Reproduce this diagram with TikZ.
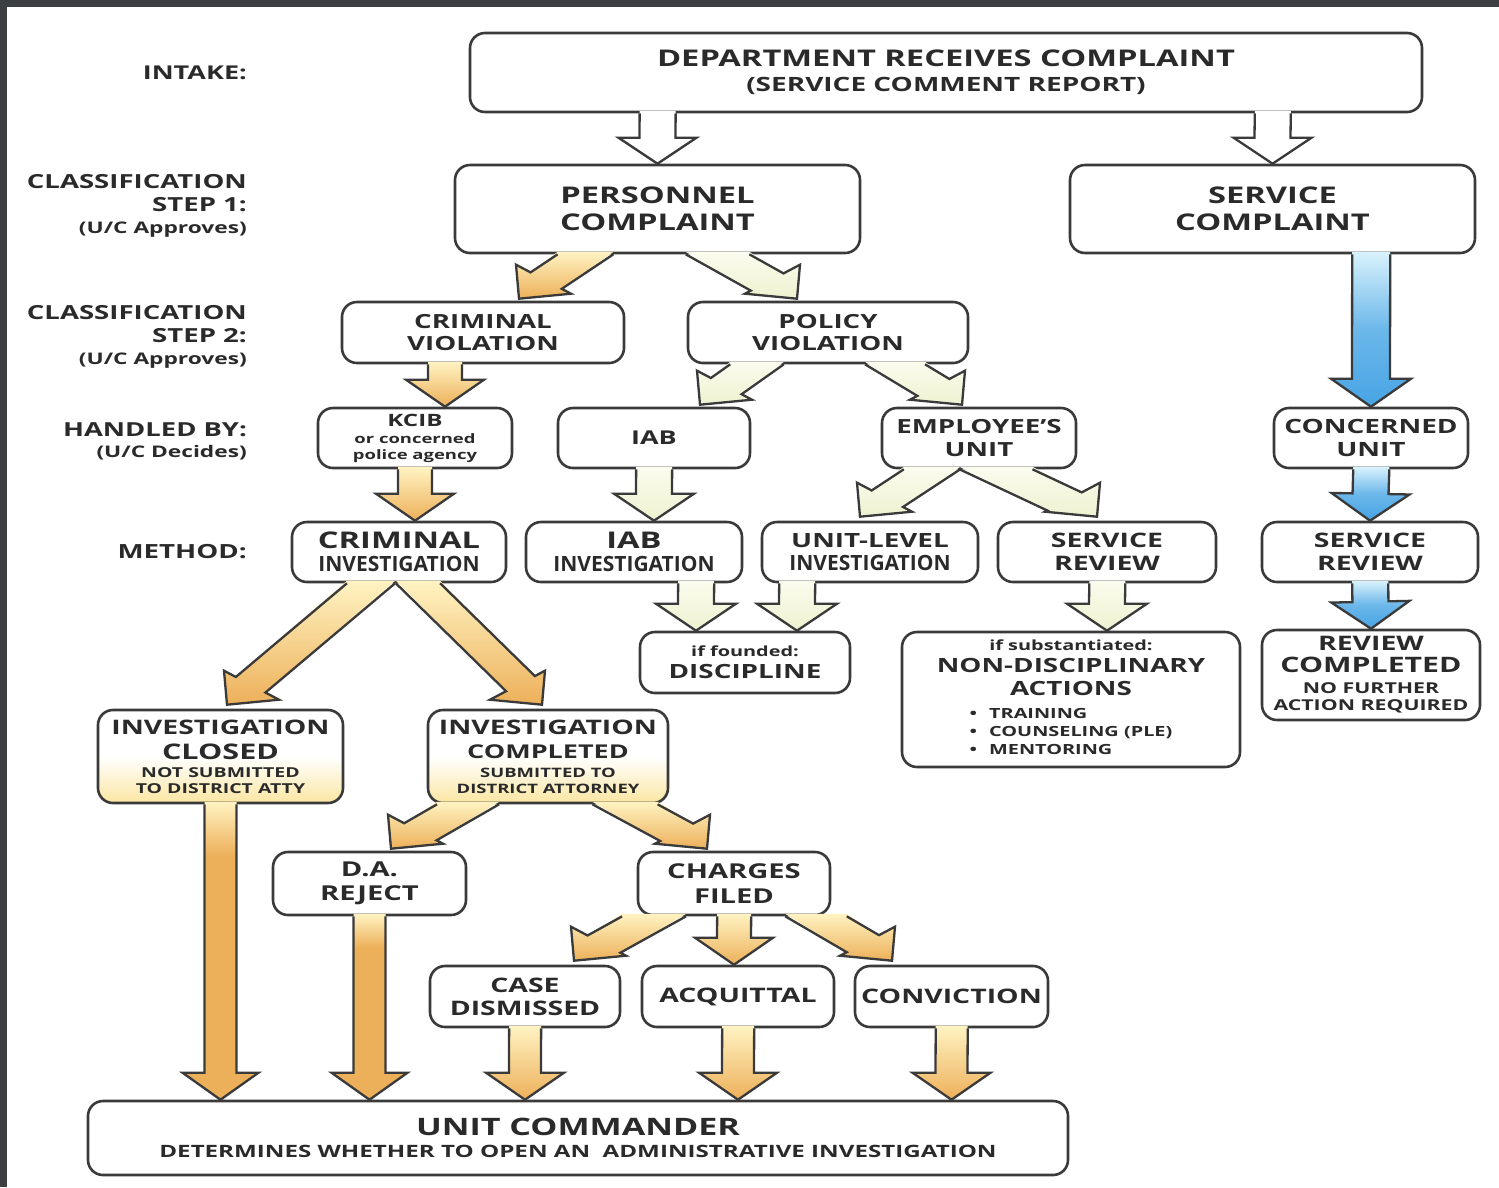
\documentclass[tikz,border=0pt]{standalone}
\usepackage{fontspec}
\setmainfont{Open Sans}[FakeStretch=1.42]
\newfontfamily\condfont{Open Sans}[FakeStretch=1.0]
\usetikzlibrary{calc}

\definecolor{linegray}{HTML}{3A3A3A}
\definecolor{inkgray}{HTML}{2A2A2A}
\definecolor{framegray}{HTML}{3C3F42}
\definecolor{olight}{HTML}{FFF3C2}
\definecolor{oorange}{HTML}{EDB05A}
\definecolor{ptop}{HTML}{FBFCEE}
\definecolor{pbottom}{HTML}{EEF2D0}
\definecolor{blight}{HTML}{D9F2FC}
\definecolor{bblue}{HTML}{47A4E4}
\definecolor{yfade}{HTML}{FBE6A2}

\pgfdeclareverticalshading{orangedrop}{100bp}{color(0bp)=(oorange); color(25bp)=(oorange); color(66bp)=(oorange); color(75bp)=(olight); color(100bp)=(olight)}

\newcommand\sz[2]{\fontsize{#1}{#2}\selectfont}

% straight block arrow: #1 fill style, #2 from, #3 to, #4 half shaft, #5 half head, #6 head length
\newcommand\fatarrow[6]{%
  \coordinate (fa-a) at (#2);
  \coordinate (fa-b) at (#3);
  \coordinate (fa-h) at ($(fa-b)!#6!(fa-a)$);
  \coordinate (fa-s1) at ($(fa-a)!#4!90:(fa-b)$);
  \coordinate (fa-s2) at ($(fa-a)!#4!-90:(fa-b)$);
  \coordinate (fa-t1) at ($(fa-h)!#4!90:(fa-b)$);
  \coordinate (fa-t2) at ($(fa-h)!#4!-90:(fa-b)$);
  \coordinate (fa-w1) at ($(fa-h)!#5!90:(fa-b)$);
  \coordinate (fa-w2) at ($(fa-h)!#5!-90:(fa-b)$);
  \coordinate (fa-r) at ($(fa-a)+(10,0)$);
  \coordinate (fa-e1) at (intersection of fa-s1--fa-t1 and fa-a--fa-r);
  \coordinate (fa-e2) at (intersection of fa-s2--fa-t2 and fa-a--fa-r);
  \path[#1] ($(fa-e1)+(0,-2.5)$) -- (fa-t1) -- (fa-w1) -- (fa-b) -- (fa-w2) -- (fa-t2) -- ($(fa-e2)+(0,-2.5)$) -- cycle;
  \draw[arrowline] (fa-e1) -- (fa-t1) -- (fa-w1) -- (fa-b) -- (fa-w2) -- (fa-t2) -- (fa-e2);
}

% slanted block arrow with a square corner head: #5, #6 wing offsets from the tip
\newcommand\bentarrow[6]{%
  \coordinate (fa-a) at (#2);
  \coordinate (fa-b) at (#3);
  \coordinate (fa-s1) at ($(fa-a)!#4!90:(fa-b)$);
  \coordinate (fa-s2) at ($(fa-a)!#4!-90:(fa-b)$);
  \coordinate (fa-u1) at ($(fa-s1)+(fa-b)-(fa-a)$);
  \coordinate (fa-u2) at ($(fa-s2)+(fa-b)-(fa-a)$);
  \coordinate (fa-w1) at ($(fa-b)+(#5)$);
  \coordinate (fa-w2) at ($(fa-b)+(#6)$);
  \coordinate (fa-t1) at (intersection of fa-s1--fa-u1 and fa-w1--fa-w2);
  \coordinate (fa-t2) at (intersection of fa-s2--fa-u2 and fa-w1--fa-w2);
  \coordinate (fa-r) at ($(fa-a)+(10,0)$);
  \coordinate (fa-e1) at (intersection of fa-s1--fa-u1 and fa-a--fa-r);
  \coordinate (fa-e2) at (intersection of fa-s2--fa-u2 and fa-a--fa-r);
  \path[#1] ($(fa-e1)+(0,-2.5)$) -- (fa-t1) -- (fa-w1) -- (fa-b) -- (fa-w2) -- (fa-t2) -- ($(fa-e2)+(0,-2.5)$) -- cycle;
  \draw[arrowline] (fa-e1) -- (fa-t1) -- (fa-w1) -- (fa-b) -- (fa-w2) -- (fa-t2) -- (fa-e2);
}
\newcommand\leftfat[3]{\bentarrow{#1}{#2}{#3}{15.5pt}{52,-5}{-3,-34}}
\newcommand\rightfat[3]{\bentarrow{#1}{#2}{#3}{15.5pt}{3,-34}{-52,-5}}

\tikzset{
  sz/.style 2 args={font=\bfseries\fontsize{#1}{#2}\selectfont},
  box/.style={draw=linegray, line width=2.6pt, rounded corners=15pt, fill=white, align=center, inner sep=0pt, text=inkgray},
  ybox/.style={box, top color=white, bottom color=yfade, middle color=white},
  side/.style={anchor=east, align=right, text=inkgray, inner sep=0pt},
  arrowline/.style={draw=linegray, line width=2.3pt, line join=miter},
  whitefill/.style={fill=white},
  orangefill/.style={top color=olight, bottom color=oorange},
  longorange/.style={shade, shading=orangedrop},
  palefill/.style={top color=ptop, bottom color=pbottom},
  bluefill/.style={top color=blight, bottom color=bblue, middle color=bblue!75!blight},
}

\begin{document}
\begin{tikzpicture}[x=1pt, y=-1pt, font=\bfseries]
\useasboundingbox (0,0) rectangle (1499,1187);
\fill[white] (0,0) rectangle (1499,1187);
\fill[framegray] (0,0) rectangle (1499,7);
\fill[framegray] (0,0) rectangle (7,1187);

% row labels
\node[side, sz={19}{22}] (lintake) at (247,73) {INTAKE:};
\node[side, sz={19.4}{23}] (lstep1) at (247,206) {CLASSIFICATION\\STEP 1:\\[-1pt]\sz{16}{16}(U/C Approves)};
\node[side, sz={19.4}{23}] (lstep2) at (247,337) {CLASSIFICATION\\STEP 2:\\[-1pt]\sz{16}{16}(U/C Approves)};
\node[side, sz={19.3}{21}] (lhandled) at (247,441.5) {HANDLED BY:\\\sz{16}{16}(U/C Decides)};
\node[side, sz={19.5}{22}] (lmethod) at (247,552) {METHOD:};

% boxes
\node[box, sz={23}{25}, minimum width=952pt, minimum height=79pt] (dept) at (946,72.5)
  {DEPARTMENT RECEIVES COMPLAINT\\\sz{19.7}{20}(SERVICE COMMENT REPORT)};
\node[box, sz={23}{27}, minimum width=405pt, minimum height=88pt] (pers) at (657.5,209) {PERSONNEL\\COMPLAINT};
\node[box, sz={23}{27}, minimum width=405pt, minimum height=88pt] (serv) at (1272.5,209) {SERVICE\\COMPLAINT};
\node[box, sz={19.5}{22}, minimum width=282pt, minimum height=61pt] (crimv) at (483,332.5) {CRIMINAL\\VIOLATION};
\node[box, sz={19.5}{22}, minimum width=280pt, minimum height=61pt] (polv) at (828,332.5) {POLICY\\VIOLATION};
\node[box, sz={17}{17}, minimum width=194pt, minimum height=60pt] (kcib) at (415,438)
  {KCIB\\\sz{13}{13}or concerned\\[-1pt]\sz{13}{13}police agency};
\node[box, sz={19}{22}, minimum width=192pt, minimum height=60pt] (iab) at (654,438) {IAB};
\node[box, sz={19.5}{23}, minimum width=194pt, minimum height=60pt] (emp) at (979,438) {EMPLOYEE’S\\UNIT};
\node[box, sz={19.7}{23}, minimum width=194pt, minimum height=60pt] (conc) at (1371,438) {CONCERNED\\UNIT};
\node[box, sz={23}{23}, minimum width=214pt, minimum height=60pt] (crimi) at (399,552)
  {CRIMINAL\\\condfont\sz{21}{23}INVESTIGATION};
\node[box, sz={23}{23}, minimum width=216pt, minimum height=60pt] (iabi) at (634,552)
  {IAB\\\condfont\sz{21}{23}INVESTIGATION};
\node[box, sz={19.6}{23}, minimum width=216pt, minimum height=60pt] (unit) at (870,552)
  {UNIT-LEVEL\\\condfont\sz{21}{23}INVESTIGATION};
\node[box, sz={20}{23}, minimum width=218pt, minimum height=60pt] (srev) at (1107,552) {SERVICE\\REVIEW};
\node[box, sz={20}{23}, minimum width=216pt, minimum height=60pt] (srevb) at (1370,552) {SERVICE\\REVIEW};
\node[box, sz={19.6}{22}, minimum width=210pt, minimum height=61pt] (disc) at (745,662.5)
  {\sz{14}{14}if founded:\\DISCIPLINE};
\node[box, sz={19.6}{23}, minimum width=338pt, minimum height=135pt] (nond) at (1071,699.5)
  {\sz{14}{14}if substantiated:\\[-1pt]NON-DISCIPLINARY\\ACTIONS\\
   \sz{14}{18}\begin{tabular}[t]{@{}l@{}}\textbullet\hspace{12pt}TRAINING\\\textbullet\hspace{12pt}COUNSELING (PLE)\\\textbullet\hspace{12pt}MENTORING\end{tabular}};
\node[box, sz={20}{21.5}, minimum width=218pt, minimum height=90pt] (revc) at (1371,675)
  {REVIEW\\\sz{21.3}{22}COMPLETED\\\sz{15}{15}NO FURTHER\\[-4.5pt]\sz{15}{15}ACTION REQUIRED};
\node[ybox, sz={20}{16}, minimum width=245pt, minimum height=93pt] (closed) at (220.5,756.5)
  {INVESTIGATION\\[9pt]\sz{21.5}{16}CLOSED\\[2pt]\sz{13.7}{14}NOT SUBMITTED\\\sz{13.7}{14}TO DISTRICT ATTY};
\node[ybox, sz={20}{16}, minimum width=240pt, minimum height=93pt] (compl) at (548,756.5)
  {INVESTIGATION\\[8pt]\sz{19}{16}COMPLETED\\[3pt]\sz{13}{14}SUBMITTED TO\\\sz{13}{14}DISTRICT ATTORNEY};
\node[box, sz={20.5}{24}, minimum width=193pt, minimum height=63pt] (dar) at (369.5,883.5) {D.A.\\REJECT};
\node[box, sz={20.5}{25}, minimum width=192pt, minimum height=63pt] (chg) at (734,883.5) {CHARGES\\FILED};
\node[box, sz={20}{23}, minimum width=190pt, minimum height=61pt] (cdis) at (525,996.5) {CASE\\DISMISSED};
\node[box, sz={20}{23}, minimum width=192pt, minimum height=61pt] (acq) at (738,996.5) {ACQUITTAL};
\node[box, sz={20}{23}, minimum width=193pt, minimum height=61pt] (conv) at (951.5,996.5) {CONVICTION};
\node[box, sz={24}{22}, minimum width=980pt, minimum height=74pt] (uc) at (578,1138)
  {UNIT COMMANDER\\\sz{17}{17}DETERMINES WHETHER TO OPEN AN\ \ ADMINISTRATIVE INVESTIGATION};

% intake and classification
\fatarrow{whitefill}{pers.north |- dept.south}{pers.north}{18pt}{39pt}{26pt}
\fatarrow{whitefill}{serv.north |- dept.south}{serv.north}{18pt}{39pt}{26pt}
\leftfat{orangefill}{$(pers.south)+(-72,0)$}{$(crimv.north)+(36,-2)$}
\rightfat{palefill}{$(pers.south)+(60,0)$}{$(polv.north)+(-31,-2)$}
\leftfat{palefill}{$(polv.south)+(-71,0)$}{$(iab.north)+(46,-2)$}
\rightfat{palefill}{$(polv.south)+(67,0)$}{$(emp.north)+(-17,-2)$}

% criminal branch
\fatarrow{orangefill}{$(crimv.south)+(-38,0)$}{$(kcib.north)+(30,0)$}{17pt}{39pt}{27pt}
\fatarrow{orangefill}{kcib.south}{kcib.south |- crimi.north}{17pt}{39pt}{27pt}
\leftfat{orangefill}{$(crimi.south)+(-28,0)$}{$(closed.north)+(6.5,-4)$}
\rightfat{orangefill}{$(crimi.south)+(19,0)$}{$(compl.north)+(-6,-4)$}
\leftfat{orangefill}{$(compl.south)+(-80,0)$}{$(dar.north)+(21.5,-2)$}
\rightfat{orangefill}{$(compl.south)+(77,0)$}{$(chg.north)+(-27,-2)$}
\leftfat{orangefill}{$(chg.south)+(-80,0)$}{$(cdis.north)+(49,-4)$}
\fatarrow{orangefill}{chg.south}{chg.south |- acq.north}{17pt}{39pt}{27pt}
\rightfat{orangefill}{$(chg.south)+(82,0)$}{$(conv.north)+(-59.5,-4)$}
\fatarrow{longorange}{closed.south}{closed.south |- uc.north}{16pt}{38pt}{27pt}
\fatarrow{longorange}{dar.south}{dar.south |- uc.north}{16pt}{38pt}{27pt}
\fatarrow{orangefill}{cdis.south}{cdis.south |- uc.north}{16pt}{39pt}{27pt}
\fatarrow{orangefill}{acq.south}{acq.south |- uc.north}{16pt}{39pt}{27pt}
\fatarrow{orangefill}{conv.south}{conv.south |- uc.north}{16pt}{39pt}{27pt}

% policy branch
\fatarrow{palefill}{iab.south}{iab.south |- iabi.north}{18pt}{40pt}{27pt}
\leftfat{palefill}{$(emp.south)+(-47,0)$}{$(unit.north)+(-10,-4)$}
\rightfat{palefill}{$(emp.south)+(17,0)$}{$(srev.north)+(-10,-4)$}
\fatarrow{palefill}{$(iabi.south)+(62,0)$}{$(disc.north)+(-49,0)$}{18pt}{40pt}{27pt}
\fatarrow{palefill}{$(unit.south)+(-73,0)$}{$(disc.north)+(52,0)$}{18pt}{40pt}{27pt}
\fatarrow{palefill}{srev.south}{srev.south |- nond.north}{18pt}{40pt}{27pt}

% service branch
\fatarrow{bluefill}{serv.south -| conc.north}{conc.north}{19pt}{40pt}{28pt}
\fatarrow{bluefill}{conc.south}{srevb.north}{18pt}{39pt}{27pt}
\fatarrow{bluefill}{srevb.south}{revc.north}{18pt}{39pt}{27pt}
\end{tikzpicture}
\end{document}
